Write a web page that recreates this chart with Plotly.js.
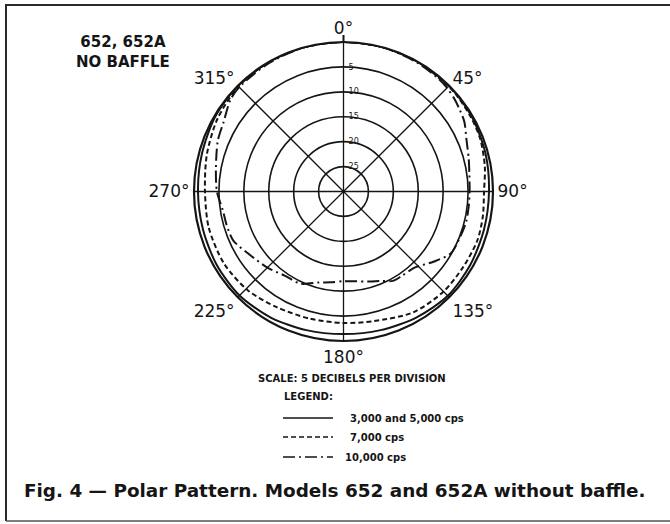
<!DOCTYPE html>
<html>
<head>
<meta charset="utf-8">
<script src="https://cdn.plot.ly/plotly-3.0.1.min.js"></script>
<style>html,body{margin:0;padding:0;background:#fff;}#chart{width:670px;height:524px;}</style>
</head>
<body>
<div id="chart"></div>
<script>
// Angles (degrees, clockwise from 0° at top) and relative response in dB
const solidTheta = [0, 15, 30, 45, 60, 75, 90, 105, 120, 135, 150, 165, 180, 195, 210, 225, 240, 255, 270, 285, 300, 315, 330, 345, 360];
const solidDb    = [0, 0, 0, 0, -0.2, -0.5, -0.8, -0.8, -0.6, -0.4, -0.8, -1.2, -1.4, -1.2, -0.8, -0.5, -0.6, -0.8, -0.8, -0.6, -0.2, 0, 0, 0, 0];

const dashTheta = [0, 15, 30, 45, 50, 60, 69, 80, 90, 100, 110, 122, 135, 150, 167, 180, 195, 210, 224, 239, 255, 270, 285, 300, 315, 330, 345, 360];
const dashDb    = [0, 0, 0, -0.2, -0.2, -0.4, -0.6, -1.2, -1.8, -1.6, -1.4, -1.6, -1.6, -2.0, -3.3, -3.6, -3.6, -3.2, -2.4, -2.0, -2.0, -2.2, -1.6, -0.8, -0.2, 0, 0, 0];

const dotTheta = [0, 15, 30, 40, 45, 50, 55, 60, 67, 75, 82, 90, 97, 104, 112, 120, 128, 137, 145, 151, 157, 165, 172, 180, 188, 195, 205, 215, 225, 236, 246, 254, 261, 270, 280, 292, 300, 309, 315, 330, 345, 360];
const dotDb    = [0, 0, -0.2, -0.4, -0.6, -1.0, -1.5, -2.0, -3.2, -4.0, -4.5, -4.7, -4.7, -4.65, -4.9, -5.15, -7.1, -9.1, -9.4, -9.5, -10.5, -11.3, -11.8, -12.0, -11.6, -11.1, -9.6, -9.4, -8.4, -7.3, -5.8, -5.6, -5.5, -4.6, -4.0, -2.8, -2.2, -0.8, -0.4, -0.2, 0, 0];

const angleTicks = [0, 45, 90, 135, 180, 225, 270, 315];
const angleLabels = ['0°', '45°', '90°', '135°', '180°', '225°', '270°', '315°'];
const dbTicks = [-25, -20, -15, -10, -5];
const dbLabels = ['25', '20', '15', '10', '5'];

const legendNames = ['3,000 and 5,000 cps', '7,000 cps', '10,000 cps'];

const W = 670, H = 524;
const px = x => x / W;
const py = y => 1 - y / H;
const ink = '#151515';
const FONT = 'DejaVu Sans';

const traces = [
  {type: 'scatterpolar', mode: 'lines', name: legendNames[0], theta: solidTheta, r: solidDb,
   line: {color: ink, width: 2, shape: 'spline', smoothing: 0.8}},
  {type: 'scatterpolar', mode: 'lines', name: legendNames[1], theta: dashTheta, r: dashDb,
   line: {color: ink, width: 2, dash: '5px,3px', shape: 'spline', smoothing: 0.8}},
  {type: 'scatterpolar', mode: 'lines', name: legendNames[2], theta: dotTheta, r: dotDb,
   line: {color: ink, width: 2, dash: '12px,4px,2px,4px', shape: 'spline', smoothing: 0.8}}
];

const legendY = [418, 437, 457];
const legendDash = ['solid', '5px,3px', '12px,4px,2px,4px'];
const legendTextX = [348, 348, 343];

const shapes = [
  {type: 'line', xref: 'paper', yref: 'paper', x0: px(5), x1: px(670), y0: py(5), y1: py(5), line: {color: '#2a2a2a', width: 2}},
  {type: 'line', xref: 'paper', yref: 'paper', x0: px(6), x1: px(6), y0: py(5), y1: py(521), line: {color: '#2a2a2a', width: 2}},
  {type: 'line', xref: 'paper', yref: 'paper', x0: px(6), x1: px(670), y0: py(521), y1: py(521), line: {color: '#555', width: 1.5}},
  {type: 'line', xref: 'paper', yref: 'paper', x0: px(343.5), x1: px(343.5), y0: py(35), y1: py(42), line: {color: ink, width: 2}}
];
legendY.forEach((y, i) => {
  shapes.push({type: 'line', xref: 'paper', yref: 'paper', x0: px(283), x1: px(333), y0: py(y), y1: py(y),
    line: {color: ink, width: 1.6, dash: legendDash[i]}});
});

const annotations = [
  {xref: 'paper', yref: 'paper', x: px(123), y: py(52), text: '652, 652A<br>NO BAFFLE', showarrow: false,
   align: 'center', xanchor: 'center', yanchor: 'middle', font: {family: FONT, size: 15, color: ink, weight: 'bold'}},
  {xref: 'paper', yref: 'paper', x: px(352), y: py(378), text: 'SCALE: 5 DECIBELS PER DIVISION', showarrow: false,
   xanchor: 'center', yanchor: 'middle', font: {family: FONT, size: 10, color: ink, weight: 'bold'}},
  {xref: 'paper', yref: 'paper', x: px(308), y: py(396), text: 'LEGEND:', showarrow: false,
   xanchor: 'center', yanchor: 'middle', font: {family: FONT, size: 10, color: ink, weight: 'bold'}},
  {xref: 'paper', yref: 'paper', x: px(334), y: py(490), text: 'Fig. 4 — Polar Pattern. Models 652 and 652A without baffle.', showarrow: false,
   xanchor: 'center', yanchor: 'middle', font: {family: FONT, size: 18.4, color: ink, weight: 'bold'}}
];
legendNames.forEach((t, i) => {
  annotations.push({xref: 'paper', yref: 'paper', x: px(legendTextX[i]), y: py(legendY[i]), text: t, showarrow: false,
    xanchor: 'left', yanchor: 'middle', font: {family: FONT, size: 10, color: ink, weight: 'bold'}});
});

const layout = {
  width: W, height: H,
  margin: {l: 0, r: 0, t: 0, b: 0},
  paper_bgcolor: '#fff',
  showlegend: false,
  polar: {
    domain: {x: [px(194), px(493)], y: [py(341), py(42)]},
    bgcolor: '#fff',
    angularaxis: {
      rotation: 90, direction: 'clockwise',
      tickmode: 'array', tickvals: angleTicks, ticktext: angleLabels,
      showgrid: true, gridcolor: ink, gridwidth: 1.3,
      showline: true, linecolor: ink, linewidth: 2.2,
      ticks: '', tickfont: {family: FONT, size: 17, color: ink}
    },
    radialaxis: {
      range: [-30, 0], angle: 90, tickangle: 90, side: 'clockwise',
      tickmode: 'array', tickvals: dbTicks, ticktext: dbLabels,
      showgrid: true, gridcolor: ink, gridwidth: 1.6,
      showline: false, ticks: 'outside', ticklen: 3, tickcolor: 'rgba(0,0,0,0)',
      tickfont: {family: FONT, size: 8, color: ink}
    }
  },
  shapes: shapes,
  annotations: annotations
};

Plotly.newPlot('chart', traces, layout, {displayModeBar: false, staticPlot: true});
</script>
</body>
</html>
